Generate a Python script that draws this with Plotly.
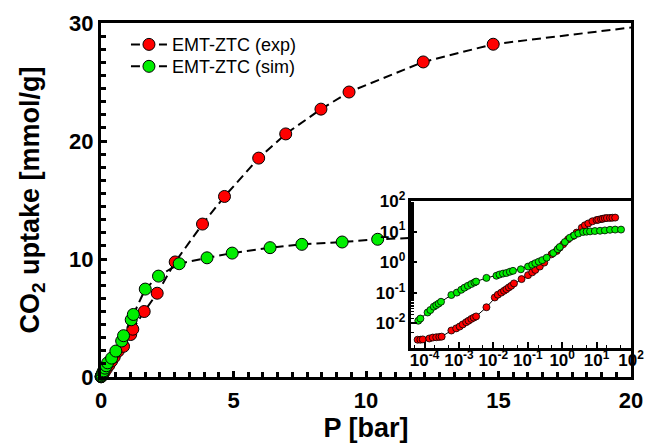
import plotly.graph_objects as go

# Main panel: CO2 uptake isotherms on linear axes (pressure in bar, uptake in mmol/g)
p_exp = [0.005, 0.02, 0.06, 0.12, 0.2, 0.3, 0.4, 0.5, 0.65, 0.85, 1.12, 1.2, 1.63,
         2.12, 2.8, 3.83, 4.66, 5.95, 6.97, 8.3, 9.36, 12.16, 14.8, 22.5]
u_exp = [0.02, 0.07, 0.2, 0.4, 0.68, 1.0, 1.35, 1.7, 2.2, 2.6, 3.6, 4.05, 5.55,
         7.1, 9.75, 12.96, 15.3, 18.55, 20.6, 22.7, 24.15, 26.7, 28.2, 30.3]

p_sim = [0.003, 0.01, 0.02, 0.04, 0.07, 0.1, 0.15, 0.2, 0.25, 0.4, 0.56, 0.78, 0.85,
         1.14, 1.22, 1.67, 2.17, 2.95, 4.0, 4.95, 6.38, 7.58, 9.1, 10.44, 12.5, 15.0, 17.5]
u_sim = [0.02, 0.06, 0.12, 0.22, 0.38, 0.52, 0.75, 0.95, 1.2, 1.6, 2.2, 3.05, 3.5,
         4.85, 5.3, 7.45, 8.55, 9.6, 10.1, 10.5, 10.96, 11.24, 11.44, 11.67, 11.85, 12.0, 12.1]

# Inset: the same isotherms on log-log axes
p_exp_log = [6.31e-5, 7.59e-5, 8.91e-5, 1.38e-4, 1.74e-4, 2.19e-4, 2.69e-4, 3.16e-4,
             6.03e-4, 8.32e-4, 1.05e-3, 1.29e-3, 1.62e-3, 1.91e-3, 2.29e-3, 2.69e-3, 3.16e-3,
             6.31e-3, 0.0110, 0.0135, 0.0170, 0.0204, 0.0240, 0.0282, 0.0331, 0.0398,
             0.0661, 0.102, 0.135, 0.166, 0.224, 0.302, 0.490, 0.692, 0.851, 1.07, 1.48,
             2.09, 2.63, 3.72, 4.57, 5.75, 7.59, 10.0, 11.2, 13.5, 15.1, 17.4, 20.0, 24.5,
             28.8, 34.7]
u_exp_log = [2.95e-3, 2.95e-3, 3.02e-3, 3.24e-3, 3.47e-3, 3.55e-3, 3.63e-3, 3.72e-3,
             5.89e-3, 6.92e-3, 7.94e-3, 9.33e-3, 0.0110, 0.0123, 0.0141, 0.0155, 0.0170,
             0.0339, 0.0708, 0.0871, 0.102, 0.117, 0.132, 0.151, 0.170, 0.204,
             0.282, 0.380, 0.468, 0.562, 0.724, 0.977, 1.82, 2.34, 3.02, 3.89, 5.62,
             7.24, 9.33, 13.5, 16.2, 18.6, 21.9, 24.0, 24.5, 25.7, 26.3, 27.5, 27.9, 28.2,
             28.5, 28.8]

p_sim_log = [6.6e-5, 7.6e-5, 1.23e-4, 1.48e-4, 1.86e-4, 2.19e-4, 2.57e-4, 3.02e-4,
             6.03e-4, 8.71e-4, 1.17e-3, 1.45e-3, 1.82e-3, 2.29e-3, 2.82e-3, 3.16e-3,
             6.31e-3, 0.0123, 0.0151, 0.0191, 0.0240, 0.0302, 0.0372, 0.0631, 0.102,
             0.135, 0.166, 0.209, 0.263, 0.355, 0.550, 0.741, 0.851, 1.20, 1.66, 2.24,
             2.95, 4.07, 5.13, 6.46, 8.91, 12.6, 17.4, 24.5, 34.7, 51.3]
u_sim_log = [0.0123, 0.0145, 0.0229, 0.0275, 0.0355, 0.0398, 0.0447, 0.0513,
             0.0851, 0.102, 0.126, 0.148, 0.170, 0.195, 0.219, 0.234,
             0.309, 0.363, 0.398, 0.427, 0.447, 0.490, 0.525, 0.589, 0.724,
             0.832, 0.933, 1.047, 1.175, 1.41, 2.0, 2.69, 3.16, 4.57, 6.31, 7.59,
             8.71, 9.77, 10.0, 10.2, 10.5, 10.7, 11.0, 11.5, 11.7, 11.7]

series_names = ["EMT-ZTC (exp)", "EMT-ZTC (sim)"]
series_colors = ["#ff0000", "#00ee00"]

main_ticks_x = [0, 5, 10, 15, 20]
main_ticks_y = [0, 10, 20, 30]
inset_ticks_x = [-4, -3, -2, -1, 0, 1, 2]
inset_ticks_y = [-2, -1, 0, 1, 2]

FONT = "Liberation Sans, Arial, sans-serif"

fig = go.Figure()

for px_, uy_, name, col, lg in [(p_exp, u_exp, series_names[0], series_colors[0], "legend"),
                                (p_sim, u_sim, series_names[1], series_colors[1], "legend2")]:
    fig.add_trace(go.Scatter(
        x=px_, y=uy_, name=name, mode="lines+markers", legend=lg,
        line=dict(color="black", width=2, dash="9px,5px"),
        marker=dict(size=12, color=col, line=dict(color="black", width=1)),
        cliponaxis=False, xaxis="x", yaxis="y",
    ))

for px_, uy_, col in [(p_exp_log, u_exp_log, series_colors[0]),
                      (p_sim_log, u_sim_log, series_colors[1])]:
    fig.add_trace(go.Scatter(
        x=px_, y=uy_, mode="lines+markers", showlegend=False,
        line=dict(color="black", width=1),
        marker=dict(size=7, color=col, line=dict(color="black", width=0.8)),
        xaxis="x2", yaxis="y2",
    ))


def sup_labels(exps):
    return ["10<sup>%d</sup>" % e for e in exps]


tick_font = dict(family=FONT, size=22, color="black", weight="bold")
title_font = dict(family=FONT, size=27, color="black", weight="bold")
inset_font = dict(family=FONT, size=17, color="black", weight="bold")
legend_font = dict(family=FONT, size=18, color="black")

legend_common = dict(xanchor="left", yanchor="top", bgcolor="rgba(0,0,0,0)",
                     itemwidth=36, font=legend_font)

fig.update_layout(
    width=648, height=448,
    margin=dict(l=101, r=17, t=23, b=71, autoexpand=False),
    paper_bgcolor="white", plot_bgcolor="white",
    showlegend=True,
    legend=dict(x=0.0471, y=0.991, **legend_common),
    legend2=dict(x=0.0471, y=0.929, **legend_common),
    xaxis=dict(
        domain=[0, 1], range=[0, 20], anchor="y", automargin=False,
        tickvals=main_ticks_x, ticks="inside", ticklen=6, tickwidth=3,
        tickcolor="black", showline=True, linewidth=3, linecolor="black",
        mirror=True, showgrid=False, zeroline=False, tickfont=tick_font,
        ticklabelstandoff=2,
        minor=dict(dtick=5 / 9, tick0=0, ticks="inside", ticklen=5, tickwidth=2.5,
                   tickcolor="black", showgrid=False),
        title=dict(text="P [bar]", font=title_font, standoff=6),
    ),
    yaxis=dict(
        domain=[0, 1], range=[0, 30], anchor="x", automargin=False,
        tickvals=main_ticks_y, ticks="inside", ticklen=6, tickwidth=3,
        tickcolor="black", showline=True, linewidth=3, linecolor="black",
        mirror=True, showgrid=False, zeroline=False, tickfont=tick_font,
        minor=dict(dtick=10 / 9, tick0=0, ticks="inside", ticklen=5, tickwidth=2.5,
                   tickcolor="black", showgrid=False),
        title=dict(text="CO<sub>2</sub> uptake [mmol/g]", font=title_font, standoff=22),
    ),
    xaxis2=dict(
        type="log", domain=[0.5857, 1.0], range=[-4.38, 2], anchor="y2", automargin=False,
        tickvals=[10.0 ** e for e in inset_ticks_x], ticktext=sup_labels(inset_ticks_x),
        ticks="inside", ticklen=6, tickwidth=2, tickcolor="black",
        showline=True, linewidth=2.5, linecolor="black", mirror=True,
        showgrid=False, zeroline=False, tickfont=inset_font, ticklabelstandoff=-5,
        minor=dict(ticks="inside", ticklen=3, tickwidth=1, tickcolor="black", showgrid=False),
    ),
    yaxis2=dict(
        type="log", domain=[0.082, 0.497], range=[-2.8, 2], anchor="x2", automargin=False,
        tickvals=[10.0 ** e for e in inset_ticks_y], ticktext=sup_labels(inset_ticks_y),
        ticks="inside", ticklen=6, tickwidth=2, tickcolor="black",
        showline=True, linewidth=2.5, linecolor="black", mirror=True,
        showgrid=False, zeroline=False, tickfont=inset_font,
        minor=dict(ticks="inside", ticklen=3, tickwidth=1, tickcolor="black", showgrid=False),
    ),
)

fig.write_html("out.html")
